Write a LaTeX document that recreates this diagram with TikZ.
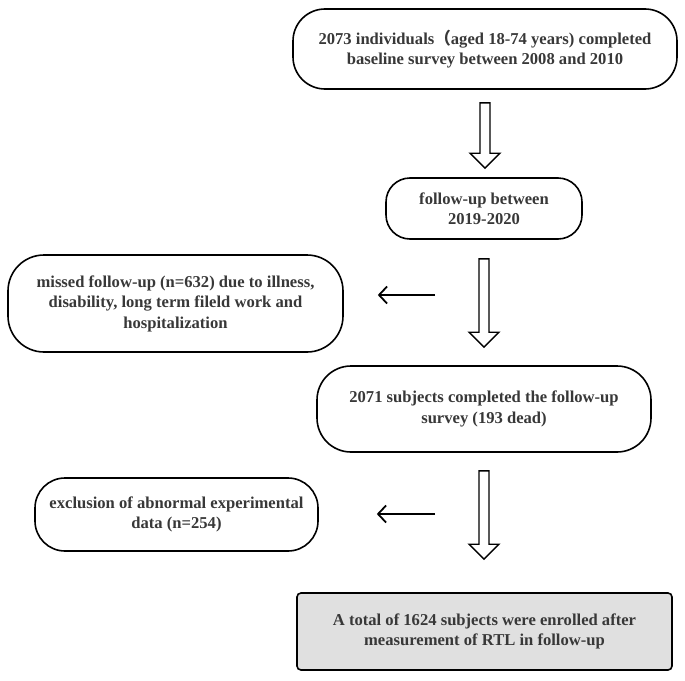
\documentclass[tikz,border=0pt]{standalone}
\usepackage{fontspec}
\setmainfont{Liberation Serif}
\newfontfamily\cjk{Noto Sans CJK SC}
\usetikzlibrary{calc,arrows.meta}
\tikzset{
  txt/.style={font=\bfseries\fontsize{16.6}{20.5}\selectfont, text=black!78, align=center, inner sep=0pt},
  roundbox/.style={txt, draw=black, line width=1.6pt, rounded corners=#1},
  roundbox/.default=30pt,
  graybox/.style={txt, draw=black, line width=1.6pt, rounded corners=4pt, fill=black!12},
  hollow/.style={draw=black, line width=1.4pt, fill=white, line join=miter,
    to path={let \p1=(\tikztostart), \p2=(\tikztotarget) in
      (\x1-5pt,\y1) -- (\x1+5pt,\y1) -- (\x1+5pt,\y2+15pt) -- (\x1+15pt,\y2+15pt)
      -- (\x1,\y2) -- (\x1-15pt,\y2+15pt) -- (\x1-5pt,\y2+15pt) -- cycle}},
  sidearrow/.style={draw=black, line width=1.8pt, -{Straight Barb[length=8pt,width=17pt,line width=1.8pt]}}
}
\begin{document}
\begin{tikzpicture}[x=1pt,y=-1pt]
\useasboundingbox (0,0) rectangle (685,680);
\node[roundbox=32pt, minimum width=384pt, minimum height=80pt] (b1) at (485,49)
  {2073 individuals{\cjk （}aged 18-74 years) completed\\baseline survey between 2008 and 2010};
\node[roundbox=24pt, minimum width=196pt, minimum height=61pt] (b2) at (484,208.5)
  {follow-up between\\2019-2020};
\node[roundbox=36pt, minimum width=335pt, minimum height=97pt] (b3) at (175.5,303.5)
  {missed follow-up (n=632) due to illness,\\disability, long term fileld work and\\hospitalization};
\node[roundbox=34pt, minimum width=334pt, minimum height=86pt] (b4) at (484,409)
  {2071 subjects completed the follow-up\\survey (193 dead)};
\node[roundbox=30pt, minimum width=283pt, minimum height=73pt] (b5) at (176.5,514.5)
  {exclusion of abnormal experimental\\data (n=254)};
\node[graybox, minimum width=375pt, minimum height=77pt] (b6) at (484.5,631.5)
  {A total of 1624 subjects were enrolled after\\measurement of RTL in follow-up};
\draw[hollow] ([yshift=-13pt]b1.south) to ([yshift=9pt]b2.north);
\draw[hollow] ([yshift=-19pt]b2.south) to ([yshift=18pt]b4.north);
\draw[hollow] ([yshift=-18pt]b4.south) to ([yshift=33pt]b6.north);
\coordinate (c1) at (435,295);
\coordinate (c2) at (435,514);
\draw[sidearrow, shorten >=34pt] (c1) -- (b3.east |- c1);
\draw[sidearrow, shorten >=58pt] (c2) -- (b5.east |- c2);
\end{tikzpicture}
\end{document}
